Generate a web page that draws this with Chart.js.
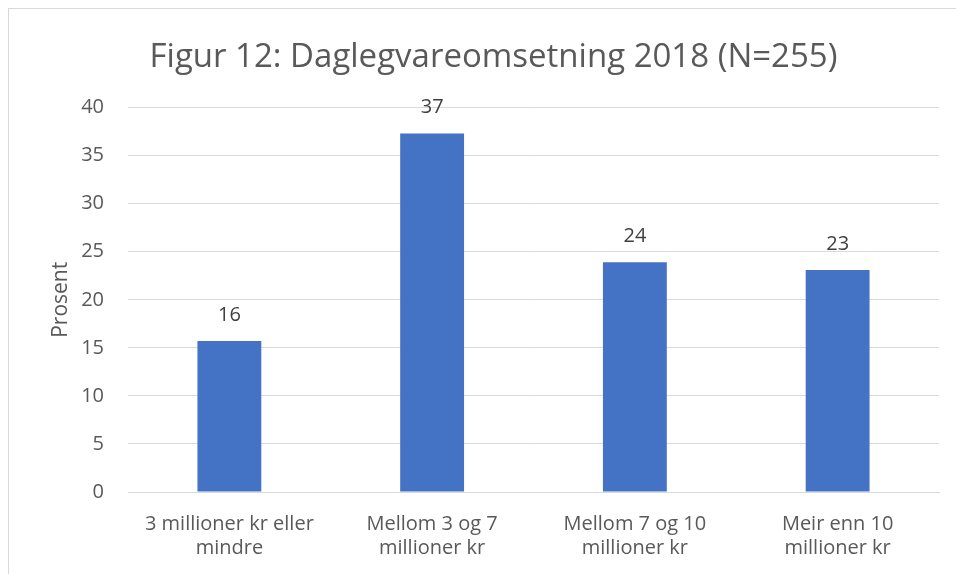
<!DOCTYPE html>
<html>
<head>
<meta charset="utf-8">
<script src="https://cdn.jsdelivr.net/npm/chart.js@4"></script>
<style>
  html, body { margin: 0; padding: 0; background: #fff; }
  #wrap { position: relative; width: 956px; height: 574px; }
  #frame { position: absolute; left: 8px; top: 8px; right: 0; bottom: 0;
           border-left: 1px solid #d9d9d9; border-top: 1px solid #d9d9d9; }
  canvas { position: absolute; left: 0; top: 0; }
</style>
</head>
<body>
<div id="wrap">
  <div id="frame"></div>
  <canvas id="chart" width="956" height="574"></canvas>
</div>
<script>
const CATEGORIES = [
  ["3 millioner kr eller", "mindre"],
  ["Mellom 3 og 7", "millioner kr"],
  ["Mellom 7 og 10", "millioner kr"],
  ["Meir enn 10", "millioner kr"]
];
const VALUES = [15.7, 37.3, 23.9, 23.1];
const LABELS = ["16", "37", "24", "23"];

const FONT = "'Open Sans', 'Noto Sans', sans-serif";

// draw the rounded value above each bar
const barLabels = {
  id: "barLabels",
  afterDatasetsDraw(chart) {
    const ctx = chart.ctx;
    const meta = chart.getDatasetMeta(0);
    ctx.save();
    ctx.font = "20px " + FONT;
    ctx.fillStyle = "#404040";
    ctx.textAlign = "center";
    ctx.textBaseline = "middle";
    meta.data.forEach((bar, i) => {
      ctx.fillText(LABELS[i], bar.x, bar.y - 26);
    });
    ctx.restore();
  }
};

new Chart(document.getElementById("chart"), {
  type: "bar",
  data: {
    labels: CATEGORIES,
    datasets: [{
      data: VALUES,
      backgroundColor: "#4472c4",
      categoryPercentage: 1,
      barPercentage: 0.315
    }]
  },
  options: {
    responsive: false,
    animation: false,
    layout: { padding: { left: 48, right: 17, top: 28, bottom: -6 } },
    plugins: {
      legend: { display: false },
      tooltip: { enabled: false },
      title: {
        display: true,
        text: "Figur 12: Daglegvareomsetning 2018 (N=255)",
        color: "#595959",
        font: { family: FONT, size: 33, weight: "normal" },
        padding: { top: 10, bottom: 30 }
      }
    },
    scales: {
      x: {
        grid: { display: false, drawTicks: false },
        border: { color: "#d9d9d9", width: 1 },
        ticks: {
          color: "#595959",
          font: { family: FONT, size: 20, lineHeight: 1.2 },
          padding: 20,
          maxRotation: 0
        }
      },
      y: {
        min: 0,
        max: 40,
        afterFit(scale) { scale.width = 80; },
        grid: { color: "#d9d9d9", drawTicks: false },
        border: { display: false },
        ticks: {
          stepSize: 5,
          color: "#595959",
          font: { family: FONT, size: 20 },
          padding: 24
        },
        title: {
          display: true,
          text: "Prosent",
          color: "#595959",
          font: { family: FONT, size: 21 },
          padding: { top: 0, bottom: 0 }
        }
      }
    }
  },
  plugins: [barLabels]
});
</script>
</body>
</html>
